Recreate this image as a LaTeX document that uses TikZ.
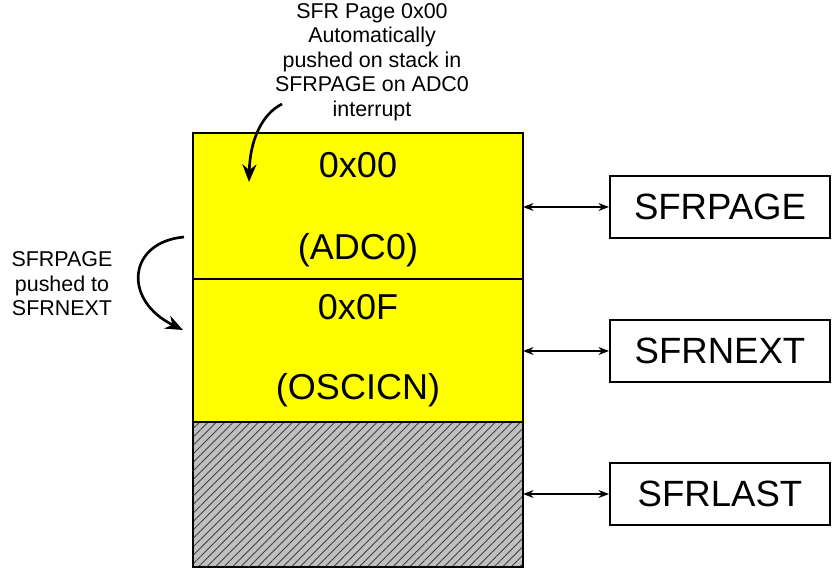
\documentclass[tikz,border=0pt]{standalone}
\usepackage{fontspec}
\setmainfont{Liberation Sans}
\usetikzlibrary{arrows.meta,patterns.meta}
\definecolor{cellyellow}{RGB}{255,255,0}
\definecolor{hatchgray}{RGB}{192,192,192}
\tikzset{
  cell/.style={draw, line width=0.6pt},
  regbox/.style={draw, line width=1.1pt, minimum width=4.4cm, minimum height=1.24cm, font=\fontsize{20.8}{24}\selectfont},
  celltext/.style={font=\fontsize{20.5}{24}\selectfont},
  note/.style={align=center, font=\fontsize{12.2}{13.9}\selectfont},
  link/.style={{Stealth[length=6pt,width=4.5pt]}-{Stealth[length=6pt,width=4.5pt]}, line width=0.9pt},
  curlarrow/.style={-{Stealth[length=10pt,width=8pt]}, line width=1.5pt}
}
\begin{document}
\begin{tikzpicture}[x=0.2mm, y=-0.2mm]
  \useasboundingbox (0,0) rectangle (835,571);
  % the stack
  \fill[hatchgray] (193,422) rectangle (523,567);
  \fill[pattern={Lines[angle=45, distance=3.4pt, line width=0.5pt]}, pattern color=black!75] (193,422) rectangle (523,567);
  \draw[cell] (193,422) rectangle (523,567);
  \draw[cell, fill=cellyellow] (193,279) rectangle (523,422);
  \draw[cell, fill=cellyellow] (193,133) rectangle (523,279);
  \node[celltext] (top) at (358,165) {0x00};
  \node[celltext] (topname) at (358,250) {(ADC0)};
  \node[celltext] (next) at (358,307) {0x0F};
  \node[celltext] (nextname) at (358,390) {(OSCICN)};
  % the registers
  \node[regbox] (sfrpage) at (720,207) {SFRPAGE};
  \node[regbox] (sfrnext) at (720,351) {SFRNEXT};
  \node[regbox] (sfrlast) at (720,494) {SFRLAST};
  \coordinate (pg) at (523,207);
  \coordinate (nx) at (523,351);
  \coordinate (ls) at (523,494);
  \draw[link] (pg) -- (sfrpage);
  \draw[link] (nx) -- (sfrnext);
  \draw[link] (ls) -- (sfrlast);
  % notes
  \node[note] (auto) at (372,62) {SFR Page 0x00\\Automatically\\pushed on stack in\\SFRPAGE on ADC0\\interrupt};
  \node[note] (pushed) at (62,284) {SFRPAGE\\pushed to\\SFRNEXT};
  \coordinate (a1) at (282,104);
  \coordinate (a2) at (249,182);
  \draw[curlarrow] (a1) .. controls (262,114) and (250,140) .. (a2);
  \coordinate (b1) at (184,237);
  \coordinate (b2) at (183,330);
  \draw[curlarrow] (b1) .. controls (128,242) and (122,300) .. (b2);
\end{tikzpicture}
\end{document}
